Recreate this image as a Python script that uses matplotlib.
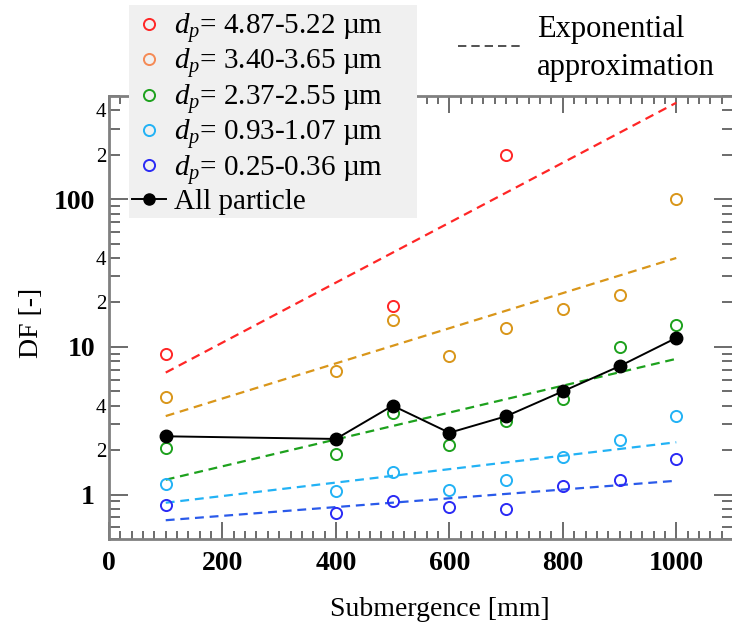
import numpy as np
import matplotlib
matplotlib.use("Agg")
import matplotlib.pyplot as plt
from matplotlib.lines import Line2D
from matplotlib.patches import Rectangle
from matplotlib.ticker import FixedLocator, FuncFormatter, MultipleLocator

plt.rcParams['font.family'] = ['Liberation Serif', 'DejaVu Serif']
plt.rcParams['mathtext.fontset'] = 'custom'
plt.rcParams['mathtext.rm'] = 'Liberation Serif'
plt.rcParams['mathtext.it'] = 'Liberation Serif:italic'

# data
x = [100, 400, 500, 600, 700, 800, 900, 1000]
x_red = [100, 500, 700]
df_red = [8.9, 19, 200]
df_orange = [4.6, 6.9, 15.3, 8.7, 13.4, 18, 22.5, 101]
df_green = [2.07, 1.87, 3.57, 2.15, 3.14, 4.47, 9.95, 14]
df_lblue = [1.17, 1.06, 1.42, 1.07, 1.26, 1.79, 2.33, 3.39]
df_blue = [0.85, 0.75, 0.90, 0.82, 0.80, 1.14, 1.26, 1.74]
df_all = [2.48, 2.38, 4.0, 2.62, 3.39, 5.0, 7.4, 11.5]

# exponential approximation end points (x=100 and x=1000)
fit_x = [100, 1000]
fit_red = [6.7, 450]
fit_orange = [3.4, 40]
fit_green = [1.26, 8.3]
fit_lblue = [0.88, 2.26]
fit_blue = [0.67, 1.24]

labels = ['$d_p$= 4.87-5.22 µm', '$d_p$= 3.40-3.65 µm', '$d_p$= 2.37-2.55 µm',
          '$d_p$= 0.93-1.07 µm', '$d_p$= 0.25-0.36 µm', 'All particle']

c_red = '#ff2626'
c_orange = '#d9961a'
c_green = '#1da11d'
c_lblue = '#22b2f5'
c_blue = '#2a2af5'
c_blue_fit = '#2a5aea'

W, H = 732, 633
fig = plt.figure(figsize=(W / 100, H / 100), dpi=100)
ax = fig.add_axes([109 / W, 1 - 539 / H, 624 / W, 443 / H])

dash = (4, 2.6)
ax.plot(fit_x, fit_red, '--', color=c_red, lw=1.6, dashes=dash)
ax.plot(fit_x, fit_orange, '--', color=c_orange, lw=1.6, dashes=dash)
ax.plot(fit_x, fit_green, '--', color=c_green, lw=1.6, dashes=dash)
ax.plot(fit_x, fit_lblue, '--', color=c_lblue, lw=1.6, dashes=dash)
ax.plot(fit_x, fit_blue, '--', color=c_blue_fit, lw=1.6, dashes=dash)

mk = dict(marker='o', ls='none', ms=8, mfc='none', mew=1.4)
ax.plot(x_red, df_red, mec=c_red, **mk)
ax.plot(x, df_orange, mec=c_orange, **mk)
ax.plot(x, df_green, mec=c_green, **mk)
ax.plot(x, df_lblue, mec=c_lblue, **mk)
ax.plot(x, df_blue, mec=c_blue, **mk)
ax.plot(x, df_all, '-o', color='black', lw=1.4, ms=9)

ax.set_yscale('log')
ax.set_xlim(0, 1100)
ax.set_ylim(0.5, 500)

# x ticks
ax.xaxis.set_major_locator(MultipleLocator(200))
ax.xaxis.set_minor_locator(MultipleLocator(20))

# y ticks: decades labelled big, 2 and 4 labelled small
ax.yaxis.set_major_locator(FixedLocator([1, 10, 100]))
ax.yaxis.set_major_formatter(FuncFormatter(lambda v, p: '%d' % v))
minors = [m * 10.0 ** e for e in [-1, 0, 1, 2] for m in range(2, 10)]
minors = [v for v in minors if 0.5 <= v <= 500 and v not in (1, 10, 100)]
ax.yaxis.set_minor_locator(FixedLocator(minors))


def minor_fmt(v, p):
    m = round(v / 10 ** np.floor(np.log10(v) + 1e-9))
    return str(int(m)) if m in (2, 4) else ''


ax.yaxis.set_minor_formatter(FuncFormatter(minor_fmt))

ax.tick_params(which='both', direction='in', top=True, right=True,
               color='#606060', width=1.3)
ax.tick_params(axis='x', which='major', length=12, labelsize=20, pad=9)
ax.tick_params(axis='x', which='minor', length=6)
ax.tick_params(axis='y', which='major', length=14, labelsize=20, pad=10)
ax.tick_params(axis='y', which='minor', length=8, labelsize=15, pad=2)
for t in ax.get_xticklabels() + ax.get_yticklabels():
    t.set_fontweight('bold')

for s in ax.spines.values():
    s.set_color('#808080')
    s.set_linewidth(2)

fig.text(32 / W, 1 - 323 / H, 'DF [-]', rotation=90, ha='center', va='center', fontsize=20)
fig.text(440 / W, 1 - 610 / H, 'Submergence [mm]', ha='center', va='center', fontsize=20)

# legend box
fig.patches.append(Rectangle((129 / W, 1 - 218 / H), 288 / W, 213 / H,
                             transform=fig.transFigure, facecolor='#f0f0f0',
                             edgecolor='none', zorder=4))
hmk = dict(marker='o', ls='none', ms=8, mfc='none', mew=1.4)
handles = [Line2D([], [], mec=c_red, **hmk),
           Line2D([], [], mec='#f58a55', **hmk),
           Line2D([], [], mec=c_green, **hmk),
           Line2D([], [], mec=c_lblue, **hmk),
           Line2D([], [], mec=c_blue, **hmk),
           Line2D([], [], color='black', marker='o', lw=1.4, ms=8)]
leg = fig.legend(handles, labels, loc='upper left', bbox_to_anchor=(132 / W, 1 - 11 / H),
                 frameon=False, borderaxespad=0, borderpad=0, labelspacing=0.05,
                 handlelength=1.15, handletextpad=0.3, numpoints=1, prop={'size': 21})
leg.set_zorder(6)

# exponential approximation note
fig.lines.append(Line2D([458 / W, 520 / W], [1 - 46 / H, 1 - 46 / H], transform=fig.transFigure,
                        color='#333333', lw=1.2, ls='--', dashes=(5, 3)))
fig.text(537 / W, 1 - 30 / H, 'Exponential', ha='left', va='center', fontsize=22)
fig.text(537 / W, 1 - 67 / H, 'approximation', ha='left', va='center', fontsize=22)

fig.savefig('out.png', dpi=100)
